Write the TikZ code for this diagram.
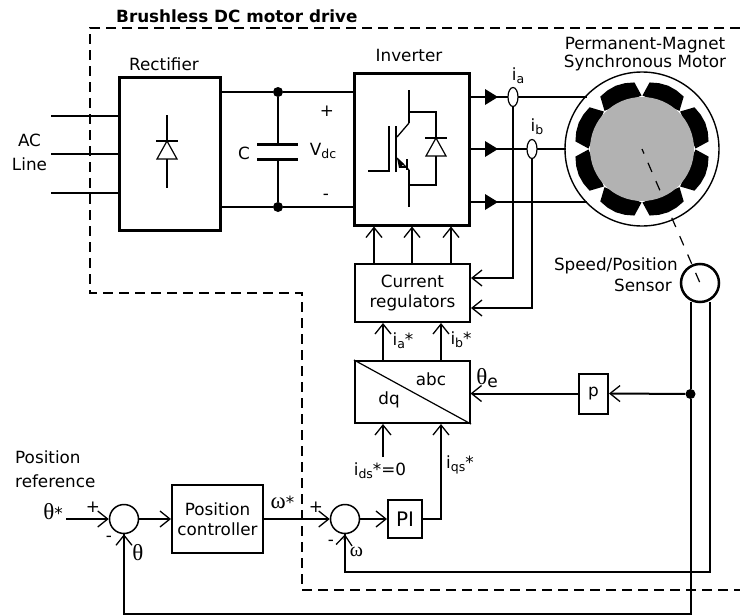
\documentclass[tikz,border=0pt]{standalone}
\usepackage{fontspec}
\setmainfont{DejaVu Sans}
\usetikzlibrary{arrows.meta,shapes.geometric,calc}
\newfontfamily\grk{Liberation Serif}
\newcommand{\gr}[1]{{\grk #1}}
\newcommand{\sbs}[1]{\raisebox{-3pt}{\fontsize{12.5}{14}\selectfont #1}}
\tikzset{
 x=1pt,y=-1pt,
 wire/.style={line width=2pt},
 openarrow/.style={wire,-{Straight Barb[length=10pt,width=16pt,line width=1.3pt]}},
 heavy/.style={draw,line width=3pt},
 block/.style={draw,line width=2pt,minimum width=0pt,minimum height=0pt,inner sep=0pt},
 sumj/.style={draw,circle,line width=1.5pt,inner sep=0pt,minimum size=29pt},
 junct/.style={fill,circle,inner sep=0pt,minimum size=10pt},
 hall/.style={draw,ellipse,line width=1.2pt,inner sep=0pt},
 lbl/.style={font=\fontsize{16.8}{20}\selectfont,inner sep=0pt,align=center},
 big/.style={font=\fontsize{23}{24}\selectfont},
 tri/.style={fill=black},
 dashb/.style={line width=2pt,dash pattern=on 10pt off 6pt},
}
\begin{document}
\begin{tikzpicture}
\useasboundingbox (0,0) rectangle (740,616);
% dashed boundary
\coordinate (d1) at (740,28); \coordinate (d2) at (90,28); \coordinate (d3) at (90,293);
\coordinate (d4) at (302,293); \coordinate (d5) at (302,590); \coordinate (d6) at (740,590);
\draw[dashb] (d1) -- (d2) -- (d3) -- (d4) -- (d5) -- (d6);
\node[lbl,anchor=west,font=\fontsize{16.8}{20}\selectfont\bfseries] (title) at (116,16) {Brushless DC motor drive};

% blocks
\node[heavy,minimum width=101pt,minimum height=153pt,inner sep=0pt] (rect) at (170,153.5) {};
\node[heavy,minimum width=115pt,minimum height=152pt,inner sep=0pt] (inv) at (412,149) {};
\node[block,minimum width=115pt,minimum height=58pt] (cur) at (412.5,293) {};
\node[lbl] at (412.5,293) {Current\\regulators};
\node[block,minimum width=115pt,minimum height=62pt] (abc) at (412.5,392) {};
\node[block,minimum width=91pt,minimum height=68pt,lbl] (pos) at (217.5,519) {Position\\controller};
\node[block,minimum width=34pt,minimum height=38pt,lbl,font=\fontsize{20}{22}\selectfont] (pi) at (405,519) {PI};
\node[block,minimum width=29pt,minimum height=40pt,lbl] (pb) at (593.5,393.5) {p};
\node[sumj] (s1) at (124,519) {};
\node[sumj] (s2) at (345,519) {};
\node[lbl] at (164,64) {Rectifier};
\node[lbl] at (409,55) {Inverter};
\node[lbl] at (645,54) {Permanent-Magnet\\[-1.5pt]Synchronous Motor};
\node[lbl,align=right,anchor=east] at (678,274.5) {Speed/Position\\[1pt]Sensor\hspace*{6pt}};
\node[lbl] at (29.5,152) {AC\\[4pt]Line};
\node[lbl] at (244,153) {C};
\node[lbl] at (327,111) {+};
\node[lbl] at (326,197) {-};
\node[lbl] at (323,151) {V\sbs{dc}};
\node[lbl] at (431,379.5) {abc};
\node[lbl] at (389,400) {dq};
\draw[line width=1.2pt] (abc.north west) -- (abc.south east);

% AC lines
\coordinate (ac1) at (51,115.7); \coordinate (ac2) at (51,154); \coordinate (ac3) at (51,193);
\draw[wire] (ac1) -- (ac1 -| rect.west);
\draw[wire] (ac2) -- (ac2 -| rect.west);
\draw[wire] (ac3) -- (ac3 -| rect.west);
% rectifier diode
\draw[wire] (167,115) -- (167,141) (167,159) -- (167,188) (156,141) -- (178,141);
\draw[line width=1.2pt] (167,141) -- (177,159) -- (157,159) -- cycle;
% DC bus
\node[junct] (jt) at (278,92) {};
\node[junct] (jb) at (278,207) {};
\draw[wire] (jt -| rect.east) -- (jt) -- (jt -| inv.west);
\draw[wire] (jb -| rect.east) -- (jb) -- (jb -| inv.west);
\draw[wire] (jt) -- (278,144) (278,159) -- (jb);
\draw[line width=3pt] (257,144) -- (298,144) (257,159) -- (298,159);
% IGBT
\draw[wire] (409,90) -- (409,123) (409,112) -- (436,112) -- (436,138)
 (436,156) -- (436,185) -- (409,185) (409,207) -- (409,170);
\draw[wire] (425,138) -- (447,138);
\draw[line width=1.2pt] (436,138) -- (446,156) -- (426,156) -- cycle;
\draw[wire] (396,172) -- (396,126) (368,171) -- (389,171) -- (389,126);
\draw[line width=1.3pt] (397,137) -- (409,123) (397,158) -- (409,170);
\draw[wire] (399,167) -- (407,167) (407,159) -- (407,170);
\fill (397,158) -- (404,164) -- (399,168) -- cycle;
% motor
\coordinate (mc) at (642,149);
\draw[line width=1.4pt] (mc) circle (77);
\foreach \a in {0,45,...,315}{
 \fill ($(mc)+({53.5*cos(\a+0.5)},{-53.5*sin(\a+0.5)})$) -- ($(mc)+({67*cos(\a+6.5)},{-67*sin(\a+6.5)})$)
   -- ($(mc)+({68*cos(\a+14.5)},{-68*sin(\a+14.5)})$)
   -- ($(mc)+({68.5*cos(\a+22.5)},{-68.5*sin(\a+22.5)})$)
   -- ($(mc)+({68*cos(\a+30.5)},{-68*sin(\a+30.5)})$)
   -- ($(mc)+({67*cos(\a+38.5)},{-67*sin(\a+38.5)})$) -- ($(mc)+({53.5*cos(\a+44.5)},{-53.5*sin(\a+44.5)})$) -- cycle;
}
\fill[black!30] (mc) circle (52);
\coordinate (se) at (700,283);
\draw[line width=1.2pt,dash pattern=on 10pt off 10pt,dash phase=5pt] (mc) -- (se);
\node[draw,circle,line width=2.5pt,minimum size=38pt,inner sep=0pt] (sens) at (se) {};
% outputs
\coordinate (o1) at (587,97); \coordinate (o2) at (566,149); \coordinate (o3) at (587,202);
\draw[wire] (o1 -| inv.east) -- (o1);
\draw[wire] (o2 -| inv.east) -- (o2);
\draw[wire] (o3 -| inv.east) -- (o3);
\foreach \y in {97,149,202}{\fill[tri] (485,\y-8) -- (498,\y) -- (485,\y+8) -- cycle;}
\node[hall,fill=white,minimum width=10pt,minimum height=19pt] (ha) at (513,97) {};
\node[hall,fill=white,minimum width=10pt,minimum height=19pt] (hb) at (532,149) {};
\node[lbl] at (518,76) {i\sbs{a}};
\node[lbl] at (537,127) {i\sbs{b}};
\coordinate (ra) at (513,278); \coordinate (rb) at (532,308);
\draw[openarrow] (ha) -- (ra) -- (ra -| cur.east);
\draw[openarrow] (hb) -- (rb) -- (rb -| cur.east);
% gate signals
\foreach \x in {374,412,451}{\draw[openarrow] (\x,264) -- (\x,226.5);}
% to regulators
\draw[openarrow] (383,361) -- (383,323);
\draw[openarrow] (441,361) -- (441,323);
\node[lbl] at (403,341) {i\sbs{a}*};
\node[lbl] at (461,340) {i\sbs{b}*};
% abc inputs
\coordinate (ids) at (383,457);
\draw[openarrow] (ids) -- (383,424);
\node[lbl] at (380,471) {i\sbs{ds}*=0};
\draw[openarrow] (pi.east) -| (441,424);
\node[lbl,anchor=west] at (446,465) {i\sbs{qs}*};
% theta_e
\draw[openarrow] (pb.west) -- (470.5,393.5);
\node[lbl,big] at (487,378) {\gr{θ}\raisebox{-3pt}{\fontsize{17}{17}\selectfont e}};
\node[junct] (jp) at (690.5,394) {};
\draw[openarrow] (jp) -- (pb.east);
% sensor lines
\coordinate (f1) at (690.5,614); \coordinate (f2) at (710,572);
\draw[wire] (690.5,302) -- (jp) -- (f1) -- (124,614) -- (124,534);
\draw[wire] (710,302) -- (f2) -- (344.5,572) -- (344.5,534);
\draw[openarrow] (124,540) -- (s1.south);
\draw[openarrow] (344.5,540) -- (s2.south);
% summing inputs
\coordinate (thin) at (66,519);
\draw[openarrow] (thin) -- (s1.west);
\draw[openarrow] (s1.east) -- (pos.west);
\draw[openarrow] (pos.east) -- (s2.west);
\draw[openarrow] (s2.east) -- (pi.west);
\node[lbl,align=left,anchor=west] at (15,469) {Position\\[4pt]reference};
\node[lbl,big] at (53,512) {\gr{θ}{\fontsize{16.8}{17}\selectfont*}};
\node[lbl] at (93,507) {+};
\node[lbl] at (109,539) {-};
\node[lbl,big] at (138,553) {\gr{θ}};
\node[lbl,big] at (282.5,502) {\gr{ω}{\fontsize{16.8}{17}\selectfont*}};
\node[lbl] at (316,507) {+};
\node[lbl] at (331,543) {-};
\node[lbl,font=\fontsize{20}{20}\selectfont] at (356.5,552) {\gr{ω}};
\end{tikzpicture}
\end{document}
